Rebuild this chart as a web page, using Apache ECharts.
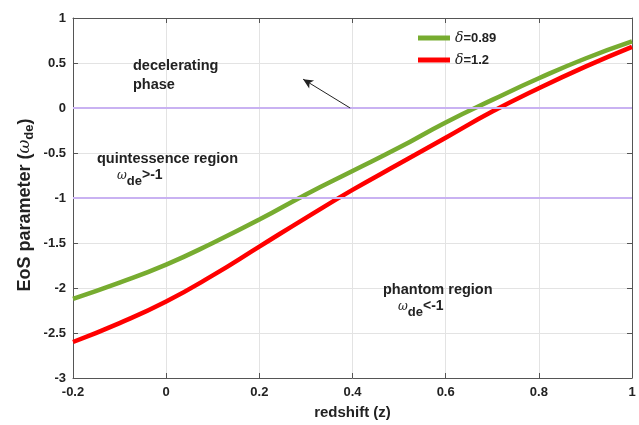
<!DOCTYPE html>
<html><head><meta charset="utf-8">
<script src="https://cdn.jsdelivr.net/npm/echarts@6/dist/echarts.min.js"></script>
<style>html,body{margin:0;padding:0;background:#fff}#c{width:639px;height:425px}</style>
</head><body><div id="c"></div>
<script>
const zValues = [-0.2,-0.1,0,0.1,0.2,0.3,0.4,0.5,0.6,0.7,0.8,0.9,1.0];
const greenVals = [-2.12,-1.94,-1.74,-1.50,-1.24,-0.96,-0.70,-0.44,-0.16,0.09,0.33,0.55,0.74];
const redVals = [-2.60,-2.39,-2.15,-1.86,-1.54,-1.22,-0.91,-0.62,-0.33,-0.04,0.22,0.46,0.68];
const seriesNames = ['δ=0.89','δ=1.2'];
const refLines = [0,-1];
const arrowFrom = [0.395,0];
const arrowTo = [0.294,0.32];
const FONT = 'Liberation Sans, Arial, sans-serif';

const chart = echarts.init(document.getElementById('c'), null, {renderer:'canvas'});
const pair = (xs, ys) => xs.map((x,i)=>[x, ys[i]]);
const labelStyle = {color:'#222', fontFamily:FONT, fontWeight:'bold', fontSize:13};
const subRich = {
  w:{fontFamily:'DejaVu Serif, serif', fontStyle:'italic', fontSize:12, fill:'#222', padding:[0,0,2,0]},
  s:{fontFamily:FONT, fontWeight:'bold', fontSize:13, fill:'#222', padding:[9,0,0,0]},
  b:{fontFamily:FONT, fontWeight:'bold', fontSize:14, fill:'#222', padding:[0,0,4,0]}
};
chart.setOption({
  animation:false,
  backgroundColor:'#fff',
  grid:{left:73, right:7, top:18, bottom:47},
  xAxis:[{
    type:'value', min:-0.2, max:1, interval:0.2,
    axisLine:{show:true, onZero:false, lineStyle:{color:'#555', width:1}},
    axisTick:{show:true, inside:true, length:5, lineStyle:{color:'#555'}},
    splitLine:{show:true, lineStyle:{color:'#e3e3e3', width:1}},
    axisLabel:Object.assign({margin:8, formatter:v=>String(Math.round(v*10)/10)}, labelStyle),
    name:'redshift (z)', nameLocation:'middle', nameGap:27,
    nameTextStyle:{color:'#222', fontFamily:FONT, fontWeight:'bold', fontSize:15}
  },{
    type:'value', position:'top', min:-0.2, max:1, interval:0.2,
    axisLine:{show:true, onZero:false, lineStyle:{color:'#555'}},
    axisTick:{show:true, inside:true, length:5, lineStyle:{color:'#555'}},
    axisLabel:{show:false}, splitLine:{show:false}
  }],
  yAxis:[{
    type:'value', min:-3, max:1, interval:0.5,
    axisLine:{show:true, onZero:false, lineStyle:{color:'#555'}},
    axisTick:{show:true, inside:true, length:5, lineStyle:{color:'#555'}},
    splitLine:{show:true, lineStyle:{color:'#e3e3e3', width:1}},
    axisLabel:Object.assign({margin:7, formatter:v=>String(Math.round(v*10)/10)}, labelStyle),
    name:'{a|EoS parameter (}{w|ω}{s|de}{a|)}', nameLocation:'middle', nameGap:37, nameRotate:90,
    nameMoveOverlap:false,
    nameTextStyle:{
      color:'#222', fontFamily:FONT, fontWeight:'bold', fontSize:18, padding:[0,14,0,0],
      rich:{
        a:{fontFamily:FONT, fontWeight:'bold', fontSize:18, color:'#222'},
        w:{fontFamily:'DejaVu Serif, serif', fontStyle:'italic', fontWeight:'normal', fontSize:17, color:'#222'},
        s:{fontFamily:FONT, fontWeight:'bold', fontSize:13, color:'#222', padding:[9,0,0,0]}
      }
    }
  },{
    type:'value', position:'right', min:-3, max:1, interval:0.5,
    axisLine:{show:true, onZero:false, lineStyle:{color:'#555'}},
    axisTick:{show:true, inside:true, length:5, lineStyle:{color:'#555'}},
    axisLabel:{show:false}, splitLine:{show:false}
  }],
  legend:{
    left:413, top:26, orient:'vertical', itemGap:8,
    itemWidth:32, itemHeight:5, icon:'rect',
    data:seriesNames,
    formatter:n=>'{i|δ}{b|'+n.slice(1)+'}',
    textStyle:{rich:{
      i:{fontFamily:'DejaVu Serif, serif', fontStyle:'italic', fontSize:14, color:'#222'},
      b:{fontFamily:FONT, fontWeight:'bold', fontSize:13, color:'#222'}
    }}
  },
  series:[
    {
      name:'refs', type:'line', data:[], silent:true,
      markLine:{
        silent:true, symbol:['none','none'], label:{show:false},
        lineStyle:{color:'#c9b2f2', width:2, type:'solid'},
        data:refLines.map(v=>({yAxis:v}))
      }
    },
    {
      name:'arrow', type:'line', data:[], silent:true,
      markLine:{
        silent:true, symbol:['none','arrow'], symbolSize:[7,10], label:{show:false},
        lineStyle:{color:'#222', width:1, type:'solid'},
        data:[[{coord:arrowFrom},{coord:arrowTo}]]
      }
    },
    {
      name:seriesNames[0], type:'line', smooth:true, showSymbol:false,
      data:pair(zValues, greenVals), lineStyle:{color:'#77ac30', width:4.5}, itemStyle:{color:'#77ac30'}
    },
    {
      name:seriesNames[1], type:'line', smooth:true, showSymbol:false,
      data:pair(zValues, redVals), lineStyle:{color:'#ff0000', width:4.5}, itemStyle:{color:'#ff0000'}
    }
  ],
  graphic:[
    {type:'text', left:133, top:56, z:100, style:{text:'decelerating\nphase', fontFamily:FONT, fontWeight:'bold', fontSize:14.5, lineHeight:19, fill:'#222'}},
    {type:'text', left:97, top:151, z:100, style:{text:'quintessence region', fontFamily:FONT, fontWeight:'bold', fontSize:14.5, fill:'#222'}},
    {type:'text', left:117, top:168, z:100, style:{text:'{w|ω}{s|de}{b|>-1}', rich:subRich}},
    {type:'text', left:383, top:282, z:100, style:{text:'phantom region', fontFamily:FONT, fontWeight:'bold', fontSize:14.5, fill:'#222'}},
    {type:'text', left:398, top:299, z:100, style:{text:'{w|ω}{s|de}{b|<-1}', rich:subRich}}
  ]
});
</script></body></html>
